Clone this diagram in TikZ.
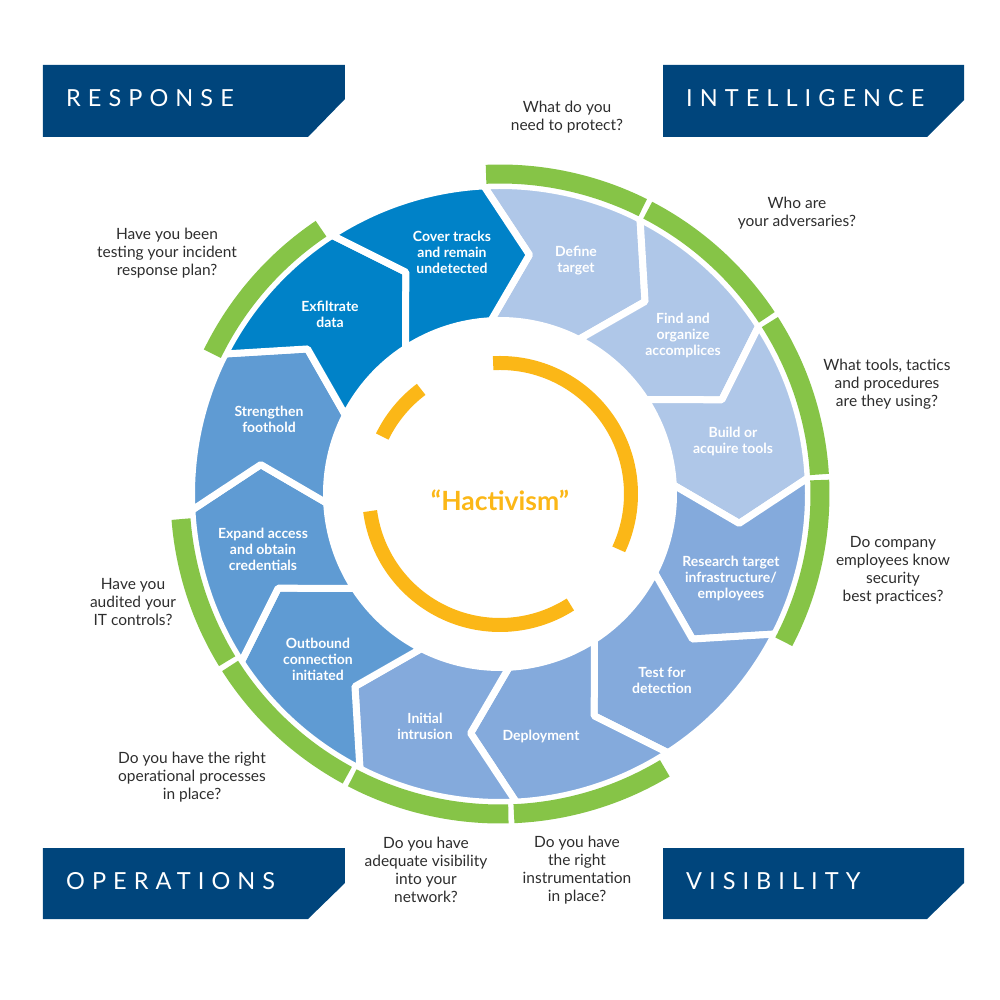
\documentclass[tikz,border=0pt]{standalone}
\usepackage{fontspec}
\setmainfont{Lato}
\usepackage{xcolor}
\newcommand{\RingOuter}
{308.5}
\newcommand{\RingInner}
{173.5}
\newcommand{\RingTip}
{241}
\newcommand{\GreenRadius}
{320}
\newcommand{\Chevron}[2]{%
  \fill[#2, draw=white, line width=7pt, line join=round]
    (#1:\RingOuter) arc[start angle=#1, end angle=#1-30, radius=\RingOuter]
    -- (#1-40:\RingTip) -- (#1-30:\RingInner)
    arc[start angle=#1-30, end angle=#1, radius=\RingInner]
    -- (#1-10:\RingTip) -- cycle;}

\begin{document}
\begin{tikzpicture}[x=1pt, y=1pt,
    seglabel/.style={text=white, align=center, font=\bfseries\fontsize{14}{16}\selectfont},
    question/.style={text=qgray, align=center, font=\fontsize{15.5}{18}\selectfont},
    bannertext/.style={text=white, anchor=west, inner sep=0pt,
      font=\fontsize{23.5}{23.5}\selectfont\addfontfeatures{LetterSpace=30}},
    greenarc/.style={draw=ringgreen, line width=19pt},
    orangearc/.style={draw=ringorange, line width=14pt}]
    % Define colors
    \definecolor{bannerblue}{RGB}{0,69,124}
    \definecolor{segA}{RGB}{175,199,232}
    \definecolor{segB}{RGB}{132,170,220}
    \definecolor{segC}{RGB}{95,155,211}
    \definecolor{segD}{RGB}{0,130,200}
    \definecolor{ringgreen}{RGB}{134,196,71}
    \definecolor{ringorange}{RGB}{251,183,23}
    \definecolor{qgray}{RGB}{45,45,45}

    \useasboundingbox (-500,-506) rectangle (500,494);

    % Corner banners
    \fill[bannerblue] (-457,429) -- (-155,429) -- (-155,395) -- (-192,357) -- (-457,357) -- cycle;
    \fill[bannerblue] (163,429) -- (464,429) -- (464,394) -- (427,357) -- (163,357) -- cycle;
    \fill[bannerblue] (-457,-354) -- (-155,-354) -- (-155,-389) -- (-192,-425) -- (-457,-425) -- cycle;
    \fill[bannerblue] (163,-354) -- (464,-354) -- (464,-389) -- (427,-425) -- (163,-425) -- cycle;
    \node[bannertext] (response) at (-434,396) {RESPONSE};
    \node[bannertext] (intelligence) at (186,396) {INTELLIGENCE};
    \node[bannertext] (operations) at (-434,-387) {OPERATIONS};
    \node[bannertext] (visibility) at (186,-387) {VISIBILITY};

    % Twelve chevron steps, clockwise from the top
    \Chevron{93}{segA}
    \Chevron{63}{segA}
    \Chevron{33}{segA}
    \Chevron{3}{segB}
    \Chevron{-27}{segB}
    \Chevron{-57}{segB}
    \Chevron{-87}{segB}
    \Chevron{-117}{segC}
    \Chevron{-147}{segC}
    \Chevron{-177}{segC}
    \Chevron{-207}{segD}
    \Chevron{-237}{segD}

    % Outer green arcs
    \draw[greenarc] (92.5:\GreenRadius) arc[start angle=92.5, end angle=63.5, radius=\GreenRadius];
    \draw[greenarc] (62.5:\GreenRadius) arc[start angle=62.5, end angle=33.5, radius=\GreenRadius];
    \draw[greenarc] (32.5:\GreenRadius) arc[start angle=32.5, end angle=3.5, radius=\GreenRadius];
    \draw[greenarc] (2.5:\GreenRadius) arc[start angle=2.5, end angle=-27.5, radius=\GreenRadius];
    \draw[greenarc] (-59:\GreenRadius) arc[start angle=-59, end angle=-87.5, radius=\GreenRadius];
    \draw[greenarc] (-88.5:\GreenRadius) arc[start angle=-88.5, end angle=-117.5, radius=\GreenRadius];
    \draw[greenarc] (-118.5:\GreenRadius) arc[start angle=-118.5, end angle=-147.5, radius=\GreenRadius];
    \draw[greenarc] (-148.5:\GreenRadius) arc[start angle=-148.5, end angle=-175.5, radius=\GreenRadius];
    \draw[greenarc] (154:\GreenRadius) arc[start angle=154, end angle=124, radius=\GreenRadius];

    % Inner orange arcs
    \draw[orangearc] (93:131) arc[start angle=93, end angle=-25, radius=131];
    \draw[orangearc] (127:131) arc[start angle=127, end angle=154, radius=131];
    \draw[orangearc] (187.5:131) arc[start angle=187.5, end angle=302.5, radius=131];
    \node[text=ringorange, font=\bfseries\fontsize{26.5}{26.5}\selectfont] (hactivism) at (0,-6) {“Hactivism”};

    % Step labels
    \node[seglabel] (define) at (76,233) {Define\\target};
    \node[seglabel] (find) at (183,159) {Find and\\organize\\accomplices};
    \node[seglabel] (build) at (233,53) {Build or\\acquire tools};
    \node[seglabel] (research) at (231,-84) {Research target\\infrastructure/\\employees};
    \node[seglabel] (test) at (162,-186) {Test for\\detection};
    \node[seglabel] (deploy) at (41,-242) {Deployment};
    \node[seglabel] (initial) at (-75,-232) {Initial\\intrusion};
    \node[seglabel] (outbound) at (-182,-165) {Outbound\\connection\\initiated};
    \node[seglabel] (expand) at (-237,-55) {Expand access\\and obtain\\credentials};
    \node[seglabel] (strengthen) at (-231,75) {Strengthen\\foothold};
    \node[seglabel] (exfil) at (-170,180) {Exfiltrate\\data};
    \node[seglabel] (cover) at (-48,242) {Cover tracks\\and remain\\undetected};

    % Questions
    \node[question] (protect) at (67,377) {What do you\\need to protect?};
    \node[question] (adversaries) at (297,281) {Who are\\your adversaries?};
    \node[question] (tools) at (387,110) {What tools, tactics\\and procedures\\are they using?};
    \node[question] (practices) at (393,-76) {Do company\\employees know\\security\\best practices?};
    \node[question] (instrument) at (77,-376) {Do you have\\the right\\instrumentation\\in place?};
    \node[question] (network) at (-74,-376) {Do you have\\adequate visibility\\into your\\network?};
    \node[question] (processes) at (-308,-283) {Do you have the right\\operational processes\\in place?};
    \node[question] (controls) at (-367,-108) {Have you\\audited your\\IT controls?};
    \node[question] (plan) at (-333,241) {Have you been\\testing your incident\\response plan?};

\end{tikzpicture}
\end{document}
